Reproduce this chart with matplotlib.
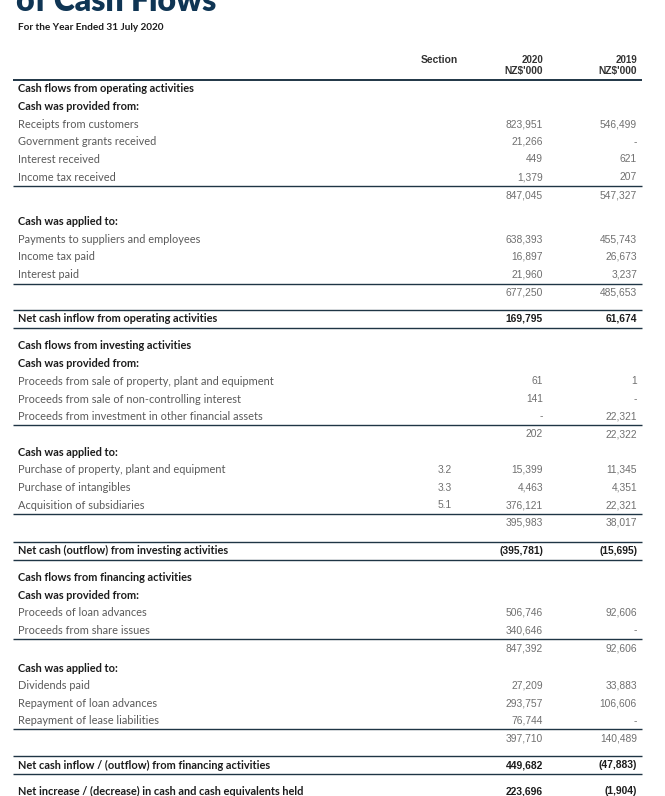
import matplotlib
matplotlib.use("Agg")
import matplotlib.pyplot as plt

# ---------------- data ----------------
title = "of Cash Flows"
subtitle = "For the Year Ended 31 July 2020"
col_headers = ["Section", "2020\nNZ$'000", "2019\nNZ$'000"]

labels = [
    "Cash flows from operating activities", "Cash was provided from:",
    "Receipts from customers", "Government grants received", "Interest received",
    "Income tax received", "",
    "Cash was applied to:", "Payments to suppliers and employees", "Income tax paid",
    "Interest paid", "",
    "Net cash inflow from operating activities",
    "Cash flows from investing activities", "Cash was provided from:",
    "Proceeds from sale of property, plant and equipment",
    "Proceeds from sale of non-controlling interest",
    "Proceeds from investment in other financial assets", "",
    "Cash was applied to:", "Purchase of property, plant and equipment",
    "Purchase of intangibles", "Acquisition of subsidiaries", "",
    "Net cash (outflow) from investing activities",
    "Cash flows from financing activities", "Cash was provided from:",
    "Proceeds of loan advances", "Proceeds from share issues", "",
    "Cash was applied to:", "Dividends paid", "Repayment of loan advances",
    "Repayment of lease liabilities", "",
    "Net cash inflow / (outflow) from financing activities",
    "Net increase / (decrease) in cash and cash equivalents held",
]
kinds = [
    "head", "sub", "item", "item", "item", "item", "total",
    "sub", "item", "item", "item", "total", "net",
    "head", "sub", "item", "item", "item", "total",
    "sub", "item", "item", "item", "total", "net",
    "head", "sub", "item", "item", "total",
    "sub", "item", "item", "item", "total", "net", "grand",
]
section_notes = [
    "", "", "", "", "", "", "", "", "", "", "", "", "",
    "", "", "", "", "", "", "", "3.2", "3.3", "5.1", "", "",
    "", "", "", "", "", "", "", "", "", "", "", "",
]
values_2020 = [
    None, None, 823951, 21266, 449, 1379, 847045,
    None, 638393, 16897, 21960, 677250, 169795,
    None, None, 61, 141, 0, 202,
    None, 15399, 4463, 376121, 395983, -395781,
    None, None, 506746, 340646, 847392,
    None, 27209, 293757, 76744, 397710, 449682, 223696,
]
values_2019 = [
    None, None, 546499, 0, 621, 207, 547327,
    None, 455743, 26673, 3237, 485653, 61674,
    None, None, 1, 0, 22321, 22322,
    None, 11345, 4351, 22321, 38017, -15695,
    None, None, 92606, 0, 92606,
    None, 33883, 106606, 0, 140489, -47883, -1904,
]

# ---------------- layout ----------------
# vertical spacing before each row (pixels)
row_gaps = [
    0, 17.5, 17.8, 17.6, 17.6, 17.6, 18,
    26, 18, 17.6, 17.6, 18.5, 26,
    27, 17.8, 17.8, 17.6, 17.6, 17.5,
    18, 17.8, 17.6, 17.6, 17.5, 28,
    27, 17.5, 17.8, 17.6, 17.5,
    20, 17.5, 17.8, 17.6, 17.5, 27, 26,
]

W, H = 665, 796
fig = plt.figure(figsize=(W / 100, H / 100), dpi=100)
ax = fig.add_axes([0, 0, 1, 1])
ax.set_xlim(0, W)
ax.set_ylim(H, 0)
ax.axis("off")

LBL = ["Lato", "DejaVu Sans"]
NUM = ["Liberation Sans Narrow", "Liberation Sans", "DejaVu Sans"]
navy = "#0f3554"
line_c = "#1f3545"
grey_lbl = "#5a5a5a"
grey_num = "#707070"
dark = "#1c1c1c"

x_lbl = 18
x_sec = 452
x_2020 = 543
x_2019 = 637
x_l0, x_l1 = 13, 642

# title (cut off at top)
ax.text(16, 11, title, fontsize=23, fontweight="heavy", color=navy,
        family=LBL, va="baseline", ha="left")
ax.text(x_lbl, 27, subtitle, fontsize=7.2, fontweight="bold", color=dark,
        family=LBL, va="center")

# column headers
ax.text(x_sec + 6, 60, col_headers[0], fontsize=7.4, fontweight="bold",
        color="#333333", family=NUM, ha="right", va="center")
for x, hdr in ((x_2020, col_headers[1]), (x_2019, col_headers[2])):
    top, bot = hdr.split("\n")
    ax.text(x, 60, top, fontsize=7.0, fontweight="bold", color="#333333",
            family=NUM, ha="right", va="center")
    ax.text(x, 71, bot, fontsize=7.4, fontweight="bold", color="#333333",
            family=NUM, ha="right", va="center")
ax.plot([x_l0, x_l1], [80, 80], color=line_c, lw=1.4, solid_capstyle="butt")


def fmt(v):
    if v is None:
        return ""
    if v == 0:
        return "-"
    s = f"{abs(v):,}"
    return f"({s})" if v < 0 else s


y = 89
for i, (lab, kind) in enumerate(zip(labels, kinds)):
    y += row_gaps[i]
    bold = kind in ("head", "sub", "net", "grand")
    if kind == "total":
        ax.plot([x_l0, x_l1], [y - 9, y - 9], color=line_c, lw=1.0,
                solid_capstyle="butt")
    if kind == "net":
        for dy in (-9, 9):
            ax.plot([x_l0, x_l1], [y + dy, y + dy], color=line_c, lw=1.0,
                    solid_capstyle="butt")
    if lab:
        ax.text(x_lbl, y, lab, fontsize=7.9,
                fontweight="bold" if bold else "normal",
                color=dark if bold else grey_lbl, family=LBL, va="center")
    if section_notes[i]:
        ax.text(x_sec, y, section_notes[i], fontsize=7.4, color=grey_num,
                family=NUM, ha="right", va="center")
    ncol = dark if bold else grey_num
    for x, v in ((x_2020, values_2020[i]), (x_2019, values_2019[i])):
        s = fmt(v)
        if s:
            ax.text(x, y, s, fontsize=7.4, color=ncol, family=NUM,
                    fontweight="bold" if bold else "normal",
                    ha="right", va="center")

fig.savefig("out.png", dpi=100, facecolor="white")
